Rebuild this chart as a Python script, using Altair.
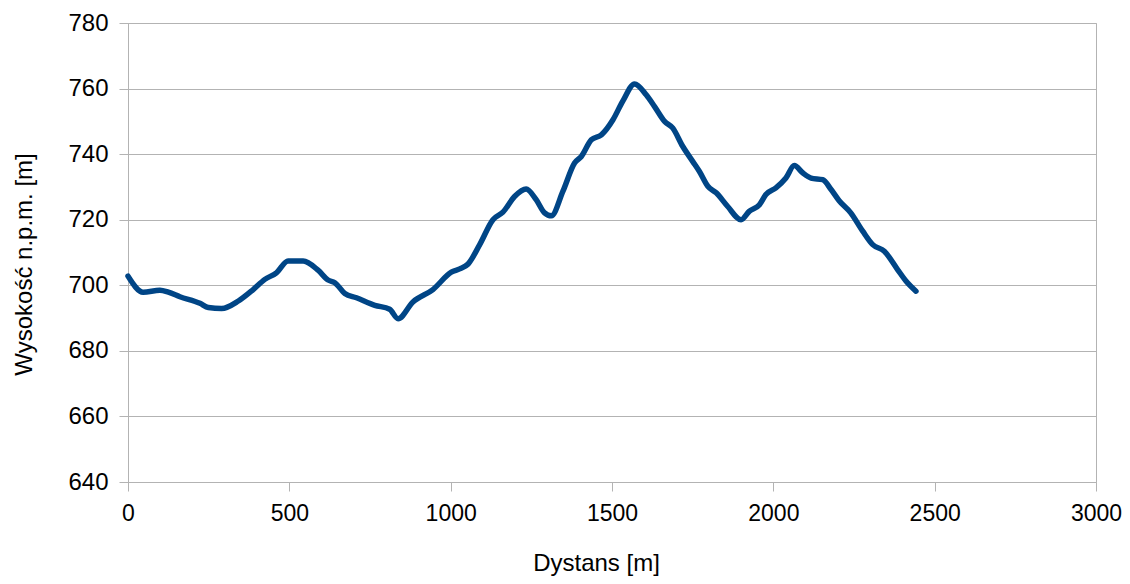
import altair as alt
import pandas as pd

distance = [0, 47, 99, 125, 161, 223, 249, 290, 342, 388, 424, 460, 496, 543, 589, 620, 641,
            672, 708, 765, 811, 837, 883, 945, 1002, 1028, 1054, 1090, 1131, 1162, 1198, 1234,
            1265, 1291, 1312, 1348, 1384, 1405, 1436, 1467, 1503, 1533, 1570, 1606, 1632, 1663,
            1688, 1719, 1750, 1771, 1797, 1823, 1858, 1900, 1926, 1957, 1977, 2008, 2039, 2065,
            2091, 2117, 2153, 2179, 2204, 2240, 2277, 2308, 2344, 2385, 2411, 2442]
elevation = [702.8, 697.9, 698.5, 697.9, 696.5, 694.5, 693.2, 692.9, 695.2, 698.7, 701.8, 703.8,
             707.4, 707.4, 704.6, 701.6, 700.8, 697.5, 696.2, 693.9, 692.7, 689.8, 694.9, 698.7,
             704.0, 705.0, 706.5, 712.4, 720.0, 722.3, 727.1, 729.4, 726.1, 722.1, 721.2, 728.7,
             737.3, 739.3, 744.4, 745.9, 750.5, 756.1, 761.4, 758.1, 754.5, 750.0, 748.0, 742.4,
             737.8, 734.7, 730.2, 728.2, 724.1, 720.0, 722.6, 724.6, 727.7, 729.7, 732.7, 736.5,
             734.3, 732.7, 732.2, 729.2, 725.8, 722.1, 716.5, 712.4, 710.4, 704.8, 701.3, 698.2]

x_ticks = [0, 500, 1000, 1500, 2000, 2500, 3000]
y_ticks = [640, 660, 680, 700, 720, 740, 760, 780]

df = pd.DataFrame({"d": distance, "h": elevation})

FONT = "Liberation Sans"

chart = alt.Chart(df).mark_line(
    color="#004586", strokeWidth=5.5, strokeJoin="round", strokeCap="round",
    interpolate="monotone"
).encode(
    x=alt.X("d:Q", scale=alt.Scale(domain=[0, 3000], nice=False),
            axis=alt.Axis(values=x_ticks, format="d", grid=False, title="Dystans [m]",
                          tickSize=9, labelPadding=11, labelFontSize=23,
                          labelFlush=False, labelOverlap=False,
                          titleFontSize=24, titleFontWeight="normal",
                          titleX=468, titleY=88, titleBaseline="alphabetic",
                          titleAlign="center")),
    y=alt.Y("h:Q", scale=alt.Scale(domain=[640, 780], nice=False, zero=False),
            axis=alt.Axis(values=y_ticks, format="d", grid=True, title="Wysokość n.p.m. [m]",
                          tickSize=9, labelPadding=11, labelFontSize=24,
                          labelFlush=False, labelOverlap=False,
                          titleFontSize=24, titleFontWeight="normal",
                          titleX=-97, titleY=241, titleBaseline="alphabetic",
                          titleAlign="center", titleAngle=-90)),
).properties(
    width=968, height=459,
    autosize=alt.AutoSizeParams(type="none"),
    padding={"left": 120, "top": 15, "right": 26, "bottom": 94},
).configure_view(
    stroke="#b3b3b3", strokeWidth=1
).configure_axis(
    labelFont=FONT, titleFont=FONT, labelColor="#000000", titleColor="#000000",
    domainColor="#b3b3b3", tickColor="#b3b3b3", gridColor="#b3b3b3",
    domainWidth=1, tickWidth=1, gridWidth=1
)

chart.save("out.html", embed_options={"renderer": "svg", "actions": False})
